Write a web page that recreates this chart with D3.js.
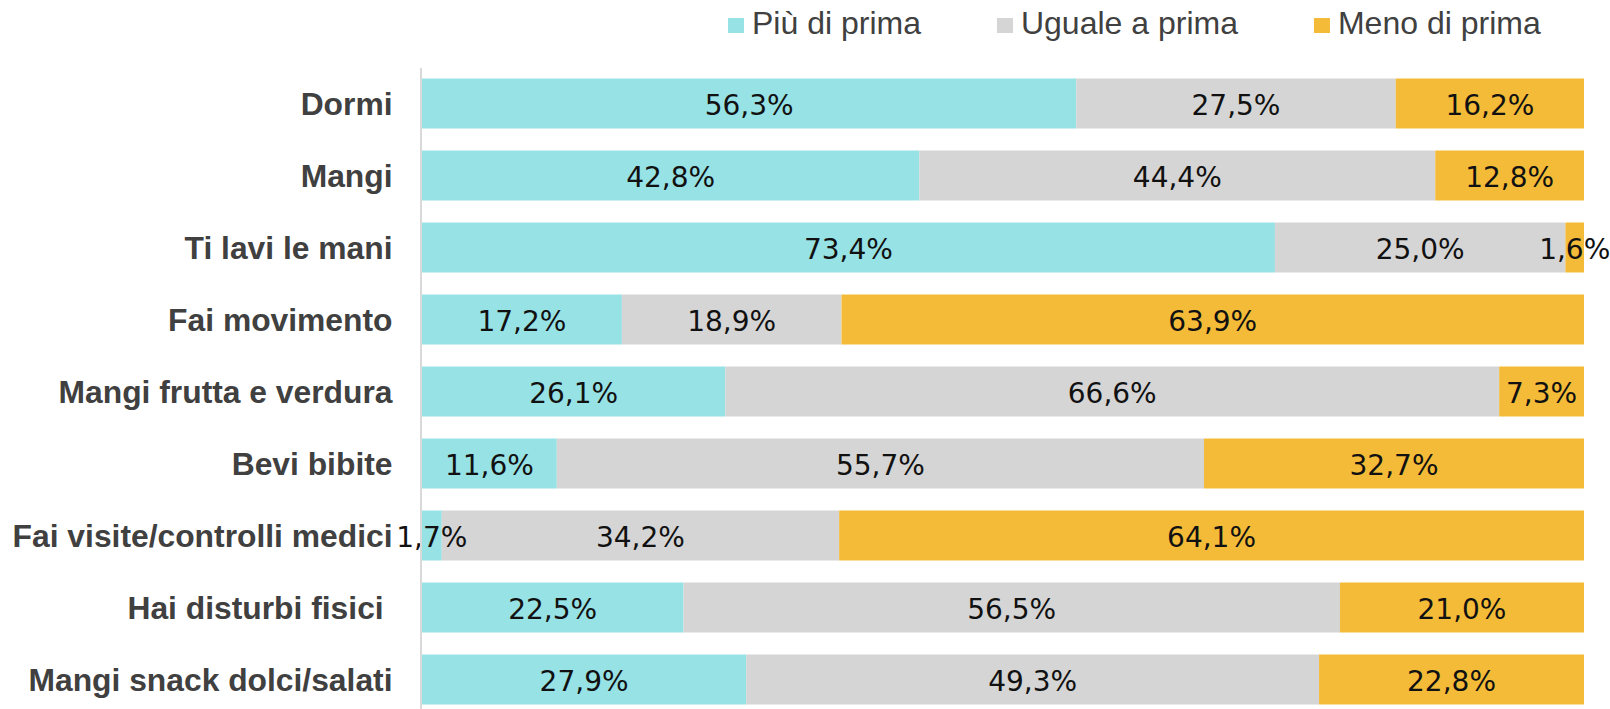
<!DOCTYPE html>
<html>
<head>
<meta charset="utf-8">
<script src="https://cdn.jsdelivr.net/npm/d3@7"></script>
<style>
  body { margin: 0; background: #fff; }
  svg { display: block; }
</style>
</head>
<body>
<svg id="chart" width="1610" height="709"></svg>
<script>
const categories = [
  'Dormi',
  'Mangi',
  'Ti lavi le mani',
  'Fai movimento',
  'Mangi frutta e verdura',
  'Bevi bibite',
  'Fai visite/controlli medici',
  'Hai disturbi fisici ',
  'Mangi snack dolci/salati'
]
const seriesNames = ['Più di prima', 'Uguale a prima', 'Meno di prima']
const piuDiPrima = [56.3, 42.8, 73.4, 17.2, 26.1, 11.6, 1.7, 22.5, 27.9]
const ugualeAPrima = [27.5, 44.4, 25.0, 18.9, 66.6, 55.7, 34.2, 56.5, 49.3]
const menoDiPrima = [16.2, 12.8, 1.6, 63.9, 7.3, 32.7, 64.1, 21.0, 22.8]

const colors = ['#97E2E5', '#D5D5D5', '#F4BB38']
const labelFont = '"Liberation Sans", Arial, sans-serif'
const valueFont = '"DejaVu Sans", sans-serif'

const rows = categories.map((c, i) => ({
  cat: c,
  [seriesNames[0]]: piuDiPrima[i],
  [seriesNames[1]]: ugualeAPrima[i],
  [seriesNames[2]]: menoDiPrima[i]
}))

const stacked = d3.stack().keys(seriesNames)(rows)

const svg = d3.select('#chart')

const xScale = d3.scaleLinear()
  .domain([0, 100])
  .range([422, 1584])

const yScale = d3.scaleBand()
  .domain(categories)
  .range([67.5, 715.5])
  .paddingInner(22 / 72)
  .paddingOuter(11 / 72)

const fmt = d3.formatLocale({ decimal: ',', thousands: '.', grouping: [3], currency: ['', '€'] }).format('.1f')

// bars
const layer = svg.append('g')
  .selectAll('g')
  .data(stacked)
  .enter()
  .append('g')
  .attr('fill', (d, i) => colors[i])

layer.selectAll('rect')
  .data(d => d)
  .enter()
  .append('rect')
  .attr('x', d => xScale(d[0]))
  .attr('y', d => yScale(d.data.cat))
  .attr('width', d => xScale(d[1]) - xScale(d[0]))
  .attr('height', yScale.bandwidth())

// value labels
const labels = svg.append('g')
stacked.forEach(s => {
  labels.selectAll(null)
    .data(s)
    .enter()
    .append('text')
    .attr('x', d => (xScale(d[0]) + xScale(d[1])) / 2)
    .attr('y', d => yScale(d.data.cat) + yScale.bandwidth() / 2 + 11)
    .attr('text-anchor', 'middle')
    .attr('font-family', valueFont)
    .attr('font-size', 28)
    .attr('fill', '#111')
    .text(d => fmt(d[1] - d[0]) + '%')
})

// category axis
const yAxis = svg.append('g')
  .attr('transform', 'translate(420.5,0)')
  .call(d3.axisLeft(yScale).tickSize(0).tickPadding(28))

yAxis.select('.domain')
  .attr('stroke', '#D9D9D9')
  .attr('stroke-width', 2)

yAxis.selectAll('text')
  .attr('font-family', labelFont)
  .attr('font-size', 31.8)
  .attr('font-weight', 'bold')
  .attr('fill', '#404040')
  .attr('dy', '0.36em')
  .style('white-space', 'pre')

// legend
const legend = svg.append('g')
let lx = 728
seriesNames.forEach((name, i) => {
  legend.append('rect')
    .attr('x', lx)
    .attr('y', 18)
    .attr('width', 16)
    .attr('height', 15)
    .attr('fill', colors[i])
  const t = legend.append('text')
    .attr('x', lx + 24)
    .attr('y', 34)
    .attr('font-family', labelFont)
    .attr('font-size', 32)
    .attr('fill', '#404040')
    .text(name)
  lx = lx + 24 + t.node().getComputedTextLength() + 76
})
</script>
</body>
</html>
